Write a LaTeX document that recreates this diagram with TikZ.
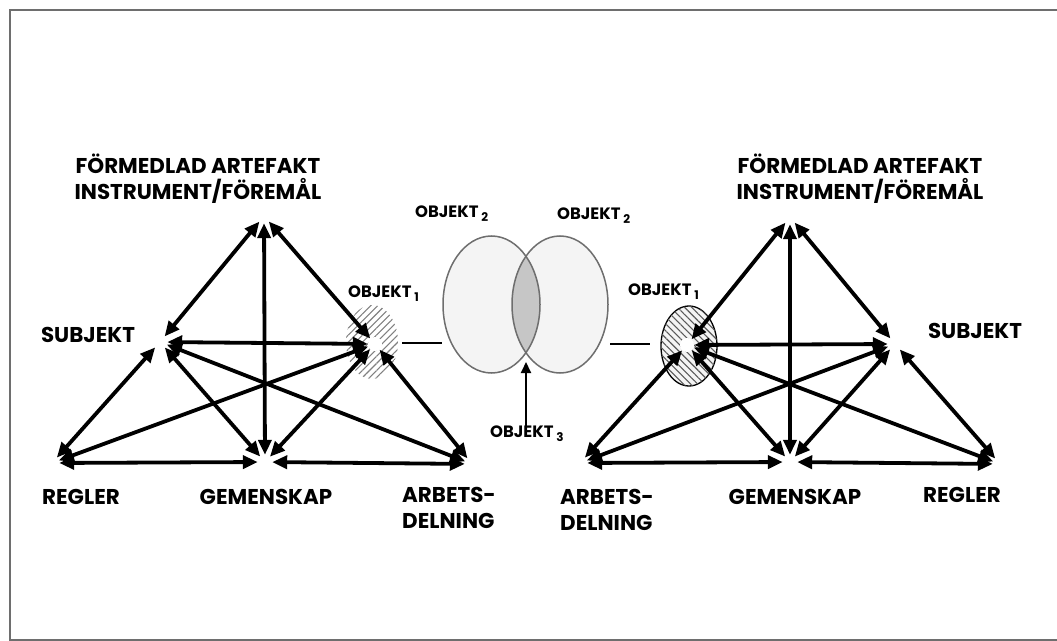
\documentclass[tikz,border=0pt]{standalone}
\usepackage{fontspec}
\setmainfont{Poppins}
\usetikzlibrary{arrows.meta,patterns.meta,positioning}

\definecolor{rimgray}{HTML}{6E6E6E}
\definecolor{lensgray}{HTML}{C6C6C6}
\definecolor{palegray}{HTML}{F4F4F4}

\tikzset{
  vtx/.style={circle,minimum size=14bp,inner sep=0pt,fill=white},
  link/.style={{Triangle[length=15bp,width=13bp]}-{Triangle[length=15bp,width=13bp]},line width=3.8bp},
  big/.style={font=\bfseries\fontsize{21.5}{26}\selectfont,inner sep=0pt},
  small/.style={font=\bfseries\fontsize{16.5}{18}\selectfont,inner sep=0pt},
}
\newcommand{\obj}[1]{OBJEKT\,\raisebox{-0.45ex}{\fontsize{12}{12}\selectfont #1}}

\begin{document}
\begin{tikzpicture}[x=1bp,y=-1bp]
  \useasboundingbox (0,0) rectangle (1057,641);
  \draw[rimgray,line width=2bp] (1057,10) -- (10,10) -- (10,640) -- (1057,640);

  % venn in the middle
  \fill[palegray] (491.5,304.5) ellipse [x radius=48.5,y radius=68.5];
  \fill[palegray] (560,304.5) ellipse [x radius=48,y radius=68.5];
  \begin{scope}
    \clip (491.5,304.5) ellipse [x radius=48.5,y radius=68.5];
    \fill[lensgray] (560,304.5) ellipse [x radius=48,y radius=68.5];
  \end{scope}
  \draw[rimgray,line width=1.5bp] (491.5,304.5) ellipse [x radius=48.5,y radius=68.5];
  \draw[rimgray,line width=1.5bp] (560,304.5) ellipse [x radius=48,y radius=68.5];

  % objekt 1 areas
  \fill[pattern={Lines[angle=45,distance=5bp,line width=1.1bp]},pattern color=gray]
    (372,342) ellipse [x radius=26,y radius=37];
  \filldraw[fill=palegray,line width=1.3bp] (689,346) ellipse [x radius=28,y radius=40];
  \fill[pattern={Lines[angle=-45,distance=5bp,line width=1.1bp]},pattern color=black!65]
    (689,346) ellipse [x radius=28,y radius=40];

  % left system
  \node[vtx] (ltop)  at (264,216) {};
  \node[vtx] (lsubj) at (160,342) {};
  \node[vtx] (lobj)  at (375,344) {};
  \node[vtx] (lregl) at (52,463) {};
  \node[vtx] (lgem)  at (265,462) {};
  \node[vtx] (larb)  at (472,464) {};
  \path[link]
    (ltop) edge (lsubj)
           edge (lgem)
           edge (lobj)
    (lsubj) edge (lobj)
            edge (lregl)
            edge (lgem)
            edge (larb)
    (lobj) edge (lregl)
           edge (lgem)
           edge (larb)
    (lgem) edge (lregl)
           edge (larb);

  % right system
  \node[vtx] (rtop)  at (790,217) {};
  \node[vtx] (robj)  at (687,345) {};
  \node[vtx] (rsubj) at (895,344) {};
  \node[vtx] (rarb)  at (580,463) {};
  \node[vtx] (rgem)  at (790,462) {};
  \node[vtx] (rregl) at (1000,464) {};
  \path[link]
    (rtop) edge (robj)
           edge (rgem)
           edge (rsubj)
    (robj) edge (rsubj)
           edge (rarb)
           edge (rgem)
           edge (rregl)
    (rsubj) edge (rarb)
            edge (rgem)
            edge (rregl)
    (rgem) edge (rarb)
           edge (rregl);

  % links to the venn
  \coordinate (lcutA) at (402,343);
  \coordinate (lcutB) at (442,343);
  \coordinate (rcutA) at (610,344);
  \coordinate (rcutB) at (650,344);
  \draw[line width=1.5bp] (lcutA) -- (lcutB);
  \draw[line width=1.5bp] (rcutA) -- (rcutB);

  % labels
  \node[big,align=center] (ltitle) at (198,179) {FÖRMEDLAD ARTEFAKT\\INSTRUMENT/FÖREMÅL};
  \node[big] (lsubjlbl) at (88,335) {SUBJEKT};
  \node[big] (lregllbl) at (81,497) {REGLER};
  \node[big] (lgemlbl) at (266,497) {GEMENSKAP};
  \node[big,align=left,anchor=north west] (larblbl) at (402,487) {ARBETS-\\DELNING};
  \node[small,anchor=west] (lobjlbl) at (348,294) {\obj{1}};

  \node[big,align=center] (rtitle) at (860,179) {FÖRMEDLAD ARTEFAKT\\INSTRUMENT/FÖREMÅL};
  \node[big] (rsubjlbl) at (975,331) {SUBJEKT};
  \node[big] (rregllbl) at (962,495) {REGLER};
  \node[big] (rgemlbl) at (795,497) {GEMENSKAP};
  \node[big,align=left,anchor=north west] (rarblbl) at (560,489) {ARBETS-\\DELNING};
  \node[small,anchor=west] (robjlbl) at (628,292) {\obj{1}};

  \node[small,anchor=west] (o2left) at (415,214) {\obj{2}};
  \node[small,anchor=west] (o2right) at (557,216) {\obj{2}};
  \node[small,anchor=west] (o3lbl) at (490,434) {\obj{3}};
  \coordinate (o3tip) at (526,362);
  \draw[-{Triangle[length=11bp,width=10bp]},line width=2bp]
    ([yshift=-5bp]o3lbl.north -| o3tip) -- (o3tip);
\end{tikzpicture}
\end{document}
